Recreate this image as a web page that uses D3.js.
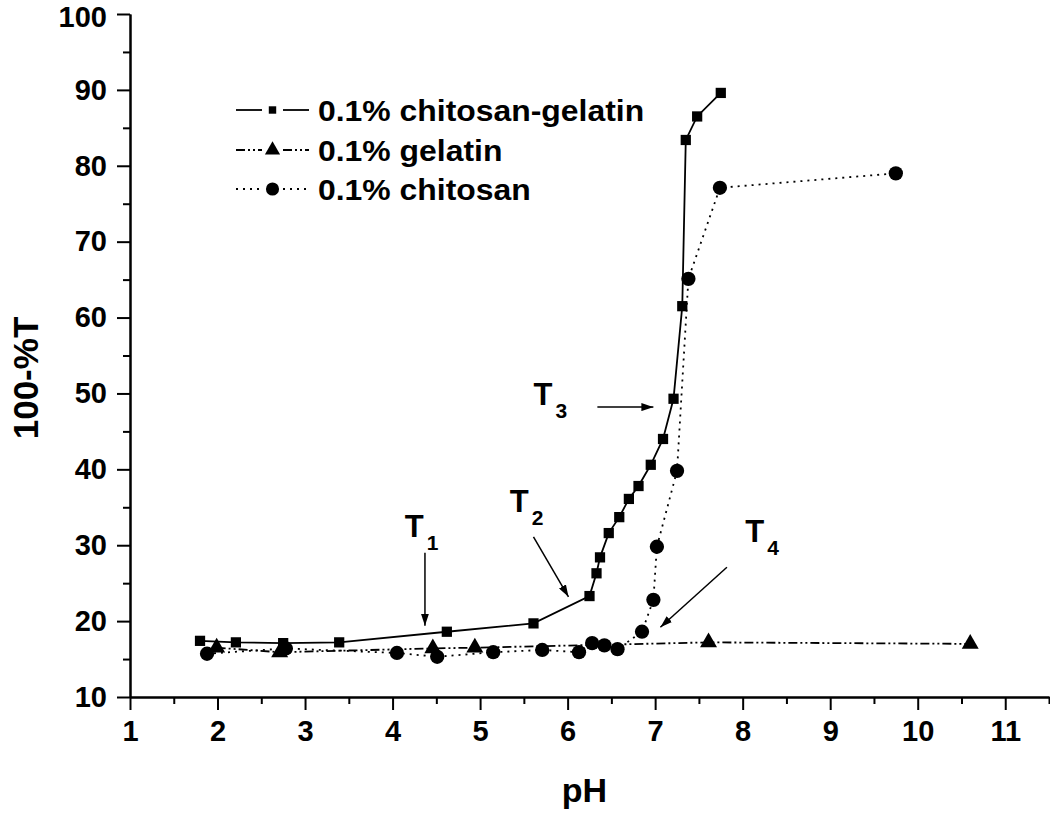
<!DOCTYPE html>
<html>
<head>
<meta charset="utf-8">
<script src="https://cdn.jsdelivr.net/npm/d3@7"></script>
<style>
  body { margin: 0; background: #fff; }
  svg text { font-family: "Liberation Sans", Arial, sans-serif; font-weight: bold; fill: #000; }
  .axis path, .axis line { stroke: #000; stroke-width: 2px; }
</style>
</head>
<body>
<script>
//Series values
var cgX = [1.80, 2.21, 2.75, 3.39, 4.62, 5.61, 6.25, 6.33, 6.37, 6.47, 6.59, 6.70, 6.81, 6.95, 7.09, 7.21, 7.31, 7.35, 7.48, 7.75];
var cgY = [17.4, 17.2, 17.1, 17.2, 18.6, 19.7, 23.3, 26.3, 28.4, 31.6, 33.7, 36.1, 37.8, 40.6, 44.0, 49.3, 61.5, 83.4, 86.5, 89.6];

var gelX = [1.99, 2.71, 4.46, 4.94, 7.61, 10.60];
var gelY = [16.5, 15.9, 16.4, 16.5, 17.2, 17.0];

var chX = [1.88, 2.78, 4.05, 4.51, 5.15, 5.71, 6.13, 6.28, 6.42, 6.57, 6.85, 6.98, 7.02, 7.25, 7.38, 7.74, 9.75];
var chY = [15.7, 16.4, 15.8, 15.3, 15.9, 16.2, 15.9, 17.1, 16.8, 16.3, 18.6, 22.8, 29.8, 39.8, 65.1, 77.1, 79.0];

var seriesNames = ["0.1% chitosan-gelatin", "0.1% gelatin", "0.1% chitosan"];
var xTicks = [1, 2, 3, 4, 5, 6, 7, 8, 9, 10, 11];
var yTicks = [10, 20, 30, 40, 50, 60, 70, 80, 90, 100];

//Transition labels: text position and arrow start/end in data units
var labels = ["1", "2", "3", "4"];
var labelPos = [[4.14, 31.1], [5.34, 34.4], [5.61, 48.5], [8.03, 30.4]];
var arrowFrom = [[4.37, 29.0], [5.61, 31.1], [6.34, 48.2], [7.82, 27.1]];
var arrowTo = [[4.37, 19.4], [6.01, 23.2], [6.98, 48.2], [7.06, 19.2]];

(function () {
//Frame
    var width = 1050, height = 813,
        padLeft = 130, padRight = 1049, padTop = 14, padBottom = 697;

    var svg = d3.select("body").append("svg")
        .attr("width", width)
        .attr("height", height);

    var x = d3.scaleLinear().domain([1, 11.5]).range([padLeft, padRight]);
    var y = d3.scaleLinear().domain([10, 100]).range([padBottom, padTop]);

//Arrow marker
    svg.append("defs").append("marker")
        .attr("id", "arrow")
        .attr("viewBox", "0 0 12 8")
        .attr("refX", 12).attr("refY", 4)
        .attr("markerWidth", 12).attr("markerHeight", 8)
        .attr("markerUnits", "userSpaceOnUse")
        .attr("orient", "auto")
        .append("path")
        .attr("d", "M0,0L12,4L0,8Z")
        .attr("fill", "#000");

//Axes with minor ticks
    var xMinor = d3.range(1.5, 11.6, 1);
    var yMinor = d3.range(15, 100, 10);

    svg.append("g").attr("class", "axis")
        .attr("transform", "translate(0," + padBottom + ")")
        .call(d3.axisBottom(x).tickValues(xMinor).tickSize(7).tickFormat("").tickSizeOuter(0));
    var xAxis = svg.append("g").attr("class", "axis")
        .attr("transform", "translate(0," + padBottom + ")")
        .call(d3.axisBottom(x).tickValues(xTicks).tickSize(13).tickSizeOuter(0).tickPadding(10));
    xAxis.selectAll("text").style("font-size", "29px");

    svg.append("g").attr("class", "axis")
        .attr("transform", "translate(" + padLeft + ",0)")
        .call(d3.axisLeft(y).tickValues(yMinor).tickSize(7).tickFormat("").tickSizeOuter(0));
    var yAxis = svg.append("g").attr("class", "axis")
        .attr("transform", "translate(" + padLeft + ",0)")
        .call(d3.axisLeft(y).tickValues(yTicks).tickSize(13).tickSizeOuter(0).tickPadding(10));
    yAxis.selectAll("text").style("font-size", "29px");
//top label sits right at the edge; nudge it down a touch so it is not clipped
    yAxis.selectAll("text").filter(function(d){ return d === 100; }).attr("dy", "0.42em");

//Axis titles
    svg.append("text")
        .attr("x", (padLeft + padRight) / 2 - 5)
        .attr("y", 802)
        .attr("text-anchor", "middle")
        .style("font-size", "34px")
        .text("pH");

    svg.append("text")
        .attr("transform", "translate(38,378) rotate(-90)")
        .attr("text-anchor", "middle")
        .style("font-size", "35px")
        .text("100-%T");

//Series
    var line = d3.line()
        .x(function(d){ return x(d[0]); })
        .y(function(d){ return y(d[1]); });
    var styles = [
        { dash: null, shape: d3.symbolSquare, size: 105, legendSize: 55 },
        { dash: "9,3,2,3,2,3", shape: d3.symbolTriangle, size: 125, legendSize: 100 },
        { dash: "2,5", shape: d3.symbolCircle, size: 160, legendSize: 135 }
    ];
    var seriesData = [d3.zip(cgX, cgY), d3.zip(gelX, gelY), d3.zip(chX, chY)];

    seriesData.forEach(function(data, i){
        svg.append("path")
            .datum(data)
            .attr("d", line)
            .attr("fill", "none")
            .attr("stroke", "#000")
            .attr("stroke-width", 1.8)
            .attr("stroke-dasharray", styles[i].dash);
    });
//draw markers after lines so they sit on top
    [2, 1, 0].forEach(function(i){
        svg.selectAll(".m" + i)
            .data(seriesData[i])
            .enter()
            .append("path")
            .attr("class", "m" + i)
            .attr("transform", function(d){ return "translate(" + x(d[0]) + "," + y(d[1]) + ")"; })
            .attr("d", d3.symbol().type(styles[i].shape).size(styles[i].size))
            .attr("fill", "#000");
    });

//Legend
    var legendY = [110, 150, 189];
    seriesNames.forEach(function(name, i){
        var g = svg.append("g").attr("transform", "translate(0," + legendY[i] + ")");
        g.append("line").attr("x1", 236).attr("x2", 262).attr("y1", 0).attr("y2", 0)
            .attr("stroke", "#000").attr("stroke-width", 1.8).attr("stroke-dasharray", styles[i].dash);
        g.append("line").attr("x1", 283).attr("x2", 309).attr("y1", 0).attr("y2", 0)
            .attr("stroke", "#000").attr("stroke-width", 1.8).attr("stroke-dasharray", styles[i].dash);
        g.append("path")
            .attr("transform", "translate(272.5,0)")
            .attr("d", d3.symbol().type(styles[i].shape).size(styles[i].legendSize))
            .attr("fill", "#000");
        var t = g.append("text")
            .attr("class", "legendText")
            .attr("x", 318)
            .attr("y", 11)
            .style("font-size", "29px")
            .text(name);
//reference text is drawn a little wider than the font
        var w = t.node().getComputedTextLength();
        t.attr("textLength", w * 1.1).attr("lengthAdjust", "spacingAndGlyphs");
    });

//Transition annotations
    labels.forEach(function(sub, i){
        var t = svg.append("text")
            .attr("x", x(labelPos[i][0]))
            .attr("y", y(labelPos[i][1]))
            .style("font-size", "31px");
        t.append("tspan").text("T");
        t.append("tspan").attr("dx", 3).attr("dy", 13).style("font-size", "21px").text(sub);

        svg.append("line")
            .attr("x1", x(arrowFrom[i][0])).attr("y1", y(arrowFrom[i][1]))
            .attr("x2", x(arrowTo[i][0])).attr("y2", y(arrowTo[i][1]))
            .attr("stroke", "#000")
            .attr("stroke-width", 1.5)
            .attr("marker-end", "url(#arrow)");
    });
})();
</script>
</body>
</html>
